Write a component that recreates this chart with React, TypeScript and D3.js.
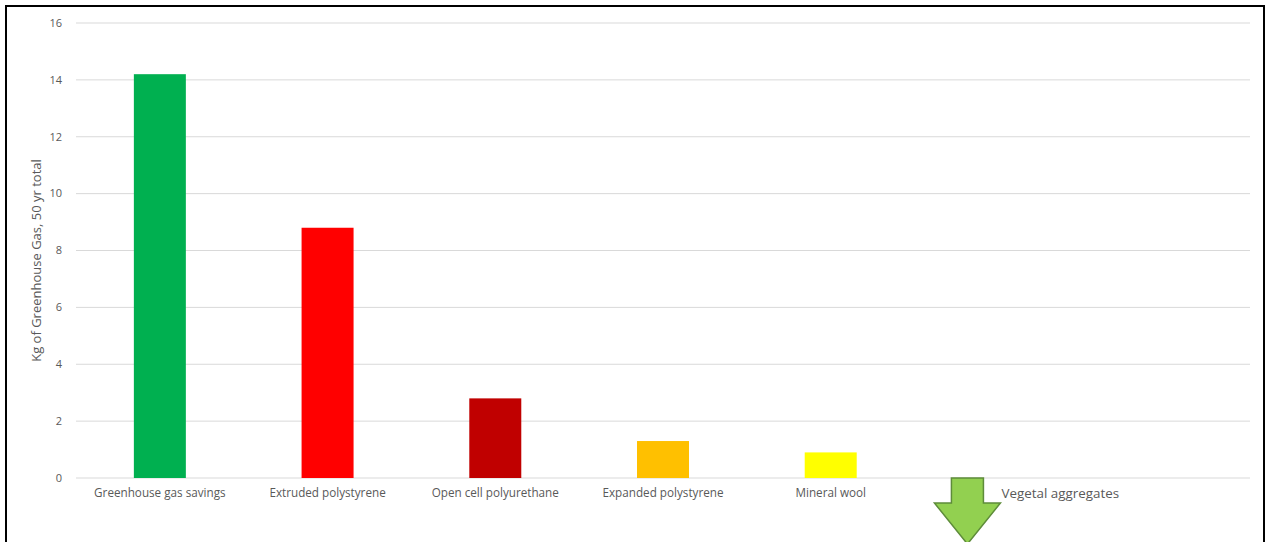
import React from "react";
import * as d3 from "d3";

const categories = [
  "Greenhouse gas savings",
  "Extruded polystyrene",
  "Open cell polyurethane",
  "Expanded polystyrene",
  "Mineral wool",
  "Vegetal aggregates",
  "",
];
const values = [14.2, 8.8, 2.8, 1.3, 0.9, null, null];
const colors = ["#00B050", "#FF0000", "#C00000", "#FFC000", "#FFFF00", "#92D050", "#fff"];
const yTicks = [0, 2, 4, 6, 8, 10, 12, 14, 16];
const yTitle = "Kg of Greenhouse Gas, 50 yr total";

const W = 1268;
const H = 542;
const FONT = "'Open Sans', 'Liberation Sans', sans-serif";

export default function App() {
  const x = d3
    .scaleBand<string>()
    .domain(categories.map((c, i) => c || "__" + i))
    .range([76, 1250])
    .paddingInner(0.69)
    .paddingOuter(0.345);
  const y = d3.scaleLinear().domain([0, 16]).range([478, 23]);
  const key = (i: number) => categories[i] || "__" + i;

  const vegIdx = categories.indexOf("Vegetal aggregates");
  const vegCenter = (x(key(vegIdx)) as number) + x.bandwidth() / 2;
  const ac = vegCenter - 31;
  const y0 = y(0);
  const arrowPts: [number, number][] = [
    [ac - 16, y0],
    [ac + 16, y0],
    [ac + 16, y0 + 25],
    [ac + 33, y0 + 25],
    [ac, y0 + 66],
    [ac - 33, y0 + 25],
    [ac - 16, y0 + 25],
  ];

  return (
    <svg
      width={W}
      height={H}
      style={{ position: "fixed", left: 0, top: 0, background: "#fff" }}
      fontFamily={FONT}
    >
      <rect x={0} y={0} width={W} height={H} fill="#fff" />
      {yTicks.map((t) => (
        <g key={t}>
          <line x1={76} x2={1250} y1={y(t)} y2={y(t)} stroke="#D9D9D9" strokeWidth={1} />
          <text x={62} y={y(t)} dy="0.35em" textAnchor="end" fontSize={11} fill="#595959">
            {t}
          </text>
        </g>
      ))}
      {values.map((v, i) =>
        v == null ? null : (
          <rect
            key={i}
            x={x(key(i))}
            y={y(v)}
            width={x.bandwidth()}
            height={y(0) - y(v)}
            fill={colors[i]}
          />
        )
      )}
      {categories.map((c, i) =>
        c && c !== "Vegetal aggregates" ? (
          <text
            key={c}
            x={(x(key(i)) as number) + x.bandwidth() / 2}
            y={497}
            textAnchor="middle"
            fontSize={11.7}
            fill="#595959"
          >
            {c}
          </text>
        ) : null
      )}
      <text x={vegCenter + 3} y={498} fontSize={13.4} fill="#595959">
        Vegetal aggregates
      </text>
      <polygon
        points={arrowPts.map((p) => p.join(",")).join(" ")}
        fill={colors[vegIdx]}
        stroke="#5E8C3A"
        strokeWidth={1.5}
      />
      <text
        transform={`translate(41,${(y(0) + y(16)) / 2 + 10}) rotate(-90)`}
        textAnchor="middle"
        fontSize={13}
        fill="#595959"
      >
        {yTitle}
      </text>
      <rect x={6} y={6} width={1258} height={H + 10} fill="none" stroke="#000" strokeWidth={2} />
    </svg>
  );
}
